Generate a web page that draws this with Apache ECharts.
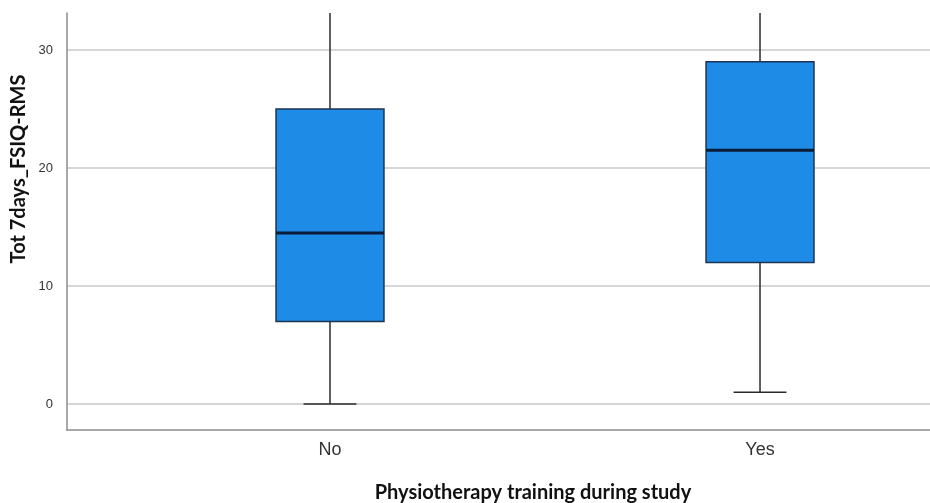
<!DOCTYPE html>
<html>
<head>
<meta charset="utf-8">
<script src="https://cdn.jsdelivr.net/npm/echarts@6/dist/echarts.min.js"></script>
<style>
  html, body { margin: 0; padding: 0; background: #fff; }
  #chart { width: 930px; height: 503px; }
</style>
</head>
<body>
<div id="chart"></div>
<script>
// Groups on the horizontal axis
const categories = ['No', 'Yes'];
// Five-number summaries per group
const whiskerLow = [0, 1];
const quartile1 = [7, 12];
const medians = [14.5, 21.5];
const quartile3 = [25, 29];
const whiskerHigh = [38, 40];
// Value axis tick labels
const yTicks = [0, 10, 20, 30];

const boxData = categories.map((c, i) => [i, whiskerLow[i], quartile1[i], medians[i], quartile3[i], whiskerHigh[i]]);

const BOX_W = 0.251;   // box width in category units
const CAP_W = 0.123;   // whisker cap width in category units

function renderBox(params, api) {
  const x = api.value(0);
  const pLow = api.coord([x, api.value(1)]);
  const pQ1 = api.coord([x, api.value(2)]);
  const pMed = api.coord([x, api.value(3)]);
  const pQ3 = api.coord([x, api.value(4)]);
  const pHigh = api.coord([x, api.value(5)]);
  const halfBox = api.size([BOX_W, 0])[0] / 2;
  const halfCap = api.size([CAP_W, 0])[0] / 2;
  const cx = pMed[0];
  const whiskerStyle = { stroke: '#2b2b2b', lineWidth: 1.5 };
  return {
    type: 'group',
    children: [
      { type: 'line', shape: { x1: cx, y1: pLow[1], x2: cx, y2: pHigh[1] }, style: whiskerStyle },
      { type: 'line', shape: { x1: cx - halfCap, y1: pLow[1], x2: cx + halfCap, y2: pLow[1] }, style: whiskerStyle },
      { type: 'line', shape: { x1: cx - halfCap, y1: pHigh[1], x2: cx + halfCap, y2: pHigh[1] }, style: whiskerStyle },
      { type: 'rect', shape: { x: cx - halfBox, y: pQ3[1], width: halfBox * 2, height: pQ1[1] - pQ3[1] },
        style: { fill: '#1e8be6', stroke: '#1d3452', lineWidth: 1.5 } },
      { type: 'line', shape: { x1: cx - halfBox, y1: pMed[1], x2: cx + halfBox, y2: pMed[1] },
        style: { stroke: '#0b1c38', lineWidth: 3 } }
    ]
  };
}

const chart = echarts.init(document.getElementById('chart'), null, { renderer: 'canvas' });
chart.setOption({
  animation: false,
  backgroundColor: '#ffffff',
  grid: { left: 67, right: 0, top: 13, bottom: 73, containLabel: false },
  xAxis: {
    type: 'value',
    min: -0.6116,
    max: 1.3953,
    axisLine: { show: true, onZero: false, lineStyle: { color: '#8c8c8c', width: 1.5 } },
    axisTick: { show: false, customValues: [0, 1] },
    splitLine: { show: false },
    axisLabel: {
      customValues: [0, 1],
      formatter: v => categories[Math.round(v)],
      color: '#333',
      fontFamily: 'Liberation Sans',
      fontSize: 18,
      margin: 11
    }
  },
  yAxis: {
    type: 'value',
    min: -2.2,
    max: 33.14,
    axisLine: { show: true, onZero: false, lineStyle: { color: '#8c8c8c', width: 1.5 } },
    axisTick: { show: false, customValues: yTicks },
    splitLine: { show: true, lineStyle: { color: '#c8c8c8', width: 1.5 } },
    axisLabel: {
      customValues: yTicks,
      color: '#333',
      fontFamily: 'Liberation Sans',
      fontSize: 13,
      margin: 14
    }
  },
  graphic: [
    {
      type: 'text',
      x: 19, y: 169,
      rotation: Math.PI / 2,
      style: {
        text: 'Tot 7days_FSIQ-RMS',
        font: 'bold 20px Lato',
        fill: '#111',
        align: 'center',
        verticalAlign: 'middle'
      }
    },
    {
      type: 'text',
      x: 533, y: 493,
      style: {
        text: 'Physiotherapy training during study',
        font: 'bold 20px Lato',
        fill: '#111',
        align: 'center',
        verticalAlign: 'middle'
      }
    }
  ],
  series: [{
    type: 'custom',
    clip: true,
    renderItem: renderBox,
    encode: { x: 0, y: [1, 2, 3, 4, 5] },
    data: boxData
  }]
});
</script>
</body>
</html>
